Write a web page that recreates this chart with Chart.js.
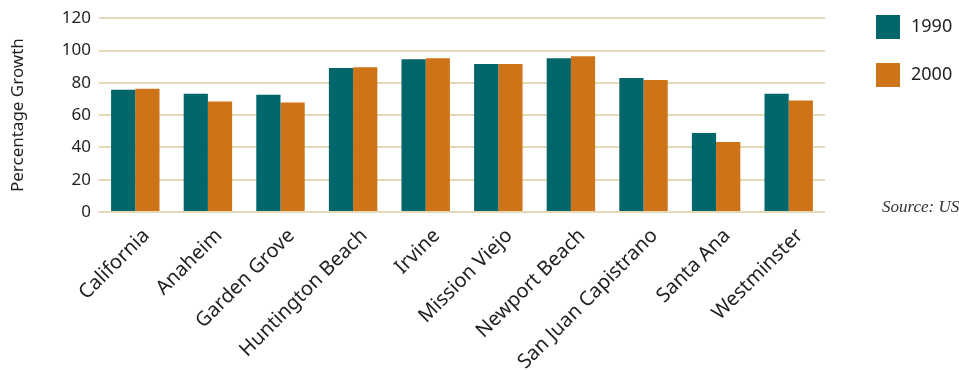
<!DOCTYPE html>
<html>
<head>
<meta charset="utf-8">
<script src="https://cdn.jsdelivr.net/npm/chart.js@4.4.1/dist/chart.umd.min.js"></script>
<style>
  html, body { margin: 0; padding: 0; background: #fff; }
  #wrap { width: 959px; height: 370px; position: relative; }
</style>
</head>
<body>
<div id="wrap"><canvas id="barChart"></canvas></div>
<script>
// values
const places = ["California", "Anaheim", "Garden Grove", "Huntington Beach", "Irvine",
  "Mission Viejo", "Newport Beach", "San Juan Capistrano", "Santa Ana", "Westminster"];
const growth1990 = [75.7, 73.2, 72.6, 89.1, 94.6, 91.6, 95.2, 83.0, 48.9, 73.2];
const growth2000 = [76.3, 68.4, 67.8, 89.7, 95.2, 91.6, 96.4, 81.8, 43.4, 69.0];
const yTicks = [0, 20, 40, 60, 80, 100, 120];
const sourceNote = "Source: US Census Bureau";

const teal = "#02666a";
const orange = "#cf7319";
const textColor = "#231f20";

// legend squares + source line drawn at the right of the plot
const sideNotes = {
  id: "sideNotes",
  afterDraw(chart) {
    const ctx = chart.ctx;
    ctx.save();
    chart.data.datasets.forEach((ds, i) => {
      const y = 15 + i * 48;
      ctx.fillStyle = ds.backgroundColor;
      ctx.fillRect(876, y, 24, 24);
      ctx.fillStyle = textColor;
      ctx.font = "18px 'Noto Sans'";
      ctx.textBaseline = "middle";
      ctx.fillText(ds.label, 911, y + 12);
    });
    ctx.font = "italic 17px 'Liberation Serif'";
    ctx.fillStyle = "#333";
    ctx.textBaseline = "middle";
    ctx.fillText(sourceNote, 882, 208);
    ctx.restore();
  },
};

const barChart = document.querySelector("#barChart");
const myChart = new Chart(barChart, {
  type: "bar",
  data: {
    labels: places,
    datasets: [
      { label: "1990", data: growth1990, backgroundColor: teal },
      { label: "2000", data: growth2000, backgroundColor: orange },
    ],
  },
  options: {
    responsive: true,
    maintainAspectRatio: false,
    animation: false,
    categoryPercentage: 0.667,
    barPercentage: 1.0,
    layout: { padding: { top: 13, right: 134, left: 0, bottom: 0 } },
    plugins: {
      legend: { display: false },
      tooltip: { enabled: false },
    },
    scales: {
      x: {
        grid: { display: false },
        border: { display: false },
        ticks: {
          color: textColor,
          font: { family: "'Noto Sans'", size: 20 },
          maxRotation: 45,
          minRotation: 45,
          padding: 4,
          labelOffset: 11,
        },
        afterFit(scale) { scale.height = 158; },
      },
      y: {
        min: 0,
        max: 120,
        afterBuildTicks(scale) { scale.ticks = yTicks.map(v => ({ value: v })); },
        grid: { color: "#e4d8b6", lineWidth: 2, drawTicks: false },
        border: { display: false },
        ticks: {
          color: textColor,
          font: { family: "'Noto Sans'", size: 17 },
          padding: 8,
        },
        title: {
          display: true,
          text: "Percentage Growth",
          color: textColor,
          font: { family: "'Noto Sans'", size: 17 },
          padding: { top: 8, bottom: 10 },
        },
        afterFit(scale) { scale.width = 99; },
      },
    },
  },
  plugins: [sideNotes],
});
</script>
</body>
</html>
